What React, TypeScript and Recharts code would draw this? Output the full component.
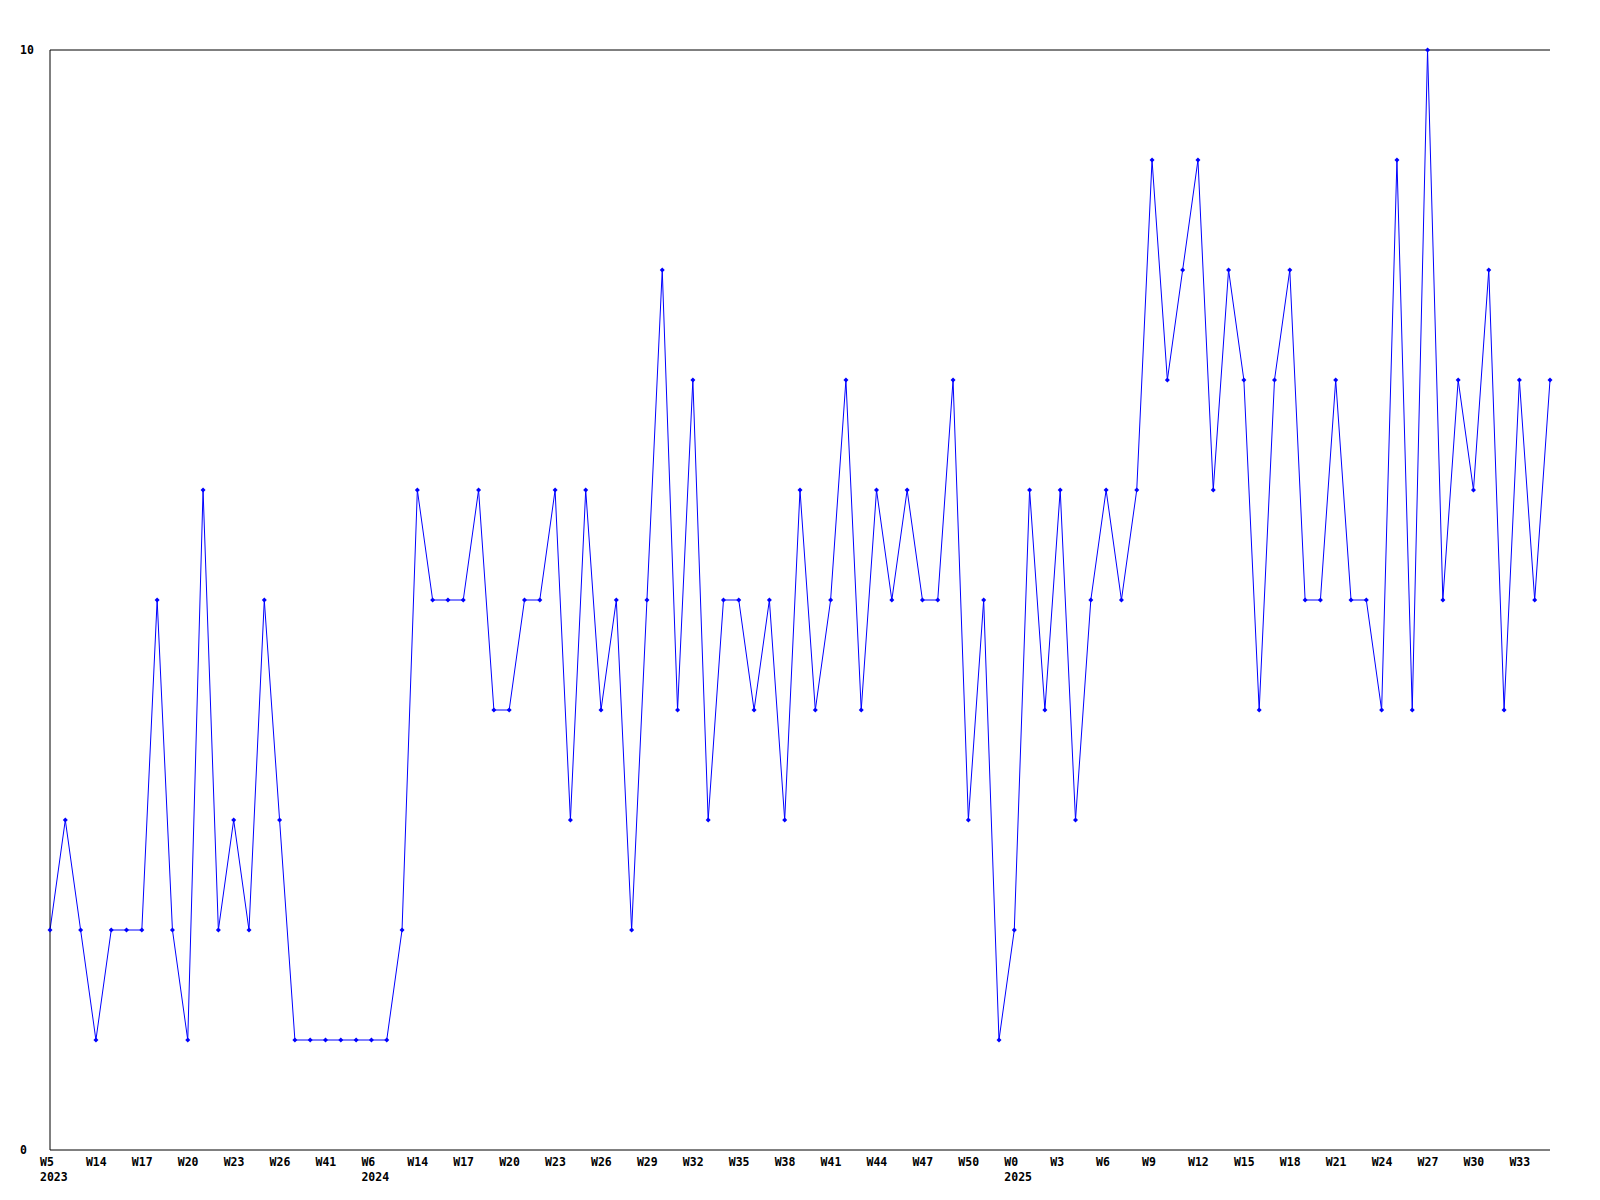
import React from 'react'
import { LineChart, Line, XAxis, YAxis, ReferenceLine } from 'recharts'

// week labels (only every third one is visible on the axis)
const weeks = [
  'W5', 'W11', 'W13', 'W14', 'W15', 'W16', 'W17', 'W18', 'W19', 'W20',
  'W21', 'W22', 'W23', 'W24', 'W25', 'W26', 'W32', 'W37', 'W41', 'W47',
  'W51', 'W6', 'W8', 'W11', 'W14', 'W15', 'W16', 'W17', 'W18', 'W19',
  'W20', 'W21', 'W22', 'W23', 'W24', 'W25', 'W26', 'W27', 'W28', 'W29',
  'W30', 'W31', 'W32', 'W33', 'W34', 'W35', 'W36', 'W37', 'W38', 'W39',
  'W40', 'W41', 'W42', 'W43', 'W44', 'W45', 'W46', 'W47', 'W48', 'W49',
  'W50', 'W51', 'W52', 'W0', 'W1', 'W2', 'W3', 'W4', 'W5', 'W6',
  'W7', 'W8', 'W9', 'W10', 'W11', 'W12', 'W13', 'W14', 'W15', 'W16',
  'W17', 'W18', 'W19', 'W20', 'W21', 'W22', 'W23', 'W24', 'W25', 'W26',
  'W27', 'W28', 'W29', 'W30', 'W31', 'W32', 'W33', 'W34', 'W35',
]

const years = [
  ...Array(21).fill(2023),
  ...Array(42).fill(2024),
  ...Array(36).fill(2025),
]

const counts = [
  2, 3, 2, 1, 2, 2, 2, 5, 2, 1,
  6, 2, 3, 2, 5, 3, 1, 1, 1, 1,
  1, 1, 1, 2, 6, 5, 5, 5, 6, 4,
  4, 5, 5, 6, 3, 6, 4, 5, 2, 5,
  8, 4, 7, 3, 5, 5, 4, 5, 3, 6,
  4, 5, 7, 4, 6, 5, 6, 5, 5, 7,
  3, 5, 1, 2, 6, 4, 6, 3, 5, 6,
  5, 6, 9, 7, 8, 9, 6, 8, 7, 4,
  7, 8, 5, 5, 7, 5, 5, 4, 9, 4,
  10, 5, 7, 6, 8, 4, 7, 5, 7,
]

const yTicks = [0, 10]

const data = weeks.map((w, i) => ({ key: `${years[i]}-${w}`, value: counts[i] }))

const FONT = '"DejaVu Sans Mono", monospace'

function WeekTick({ x, y, payload }: any) {
  const i = data.findIndex((d) => d.key === payload.value)
  const showYear = i === 0 || (i > 0 && years[i] !== years[i - 1])
  return (
    <g>
      <text x={x - 10} y={y + 12} fontFamily={FONT} fontSize={11.5} fontWeight="bold" fill="#000" dominantBaseline="central">
        {weeks[i]}
      </text>
      {showYear && (
        <text x={x - 10} y={y + 27} fontFamily={FONT} fontSize={11.5} fontWeight="bold" fill="#000" dominantBaseline="central">
          {years[i]}
        </text>
      )}
    </g>
  )
}

function ValueTick({ y, payload }: any) {
  return (
    <text x={12} y={y} fontFamily={FONT} fontSize={11.5} fontWeight="bold" fill="#000" dominantBaseline="central">
      {payload.value}
    </text>
  )
}

function Diamond({ cx, cy }: any) {
  if (cx == null || cy == null) return null
  return <path d={`M${cx},${cy - 2.5}L${cx + 2.5},${cy}L${cx},${cy + 2.5}L${cx - 2.5},${cy}Z`} fill="#0000ff" />
}

export default function App() {
  return (
    <LineChart width={1592} height={1192} data={data} margin={{ top: 42, right: 50, left: 2, bottom: 10 }}>
      <XAxis
        dataKey="key"
        interval={2}
        tick={<WeekTick />}
        tickLine={false}
        tickSize={0}
        tickMargin={0}
        height={40}
        axisLine={{ stroke: '#000' }}
      />
      <YAxis
        domain={[0, 10]}
        ticks={yTicks}
        tick={<ValueTick />}
        tickLine={false}
        tickSize={0}
        width={40}
        axisLine={{ stroke: '#000' }}
      />
      <ReferenceLine y={10} stroke="#000" />
      <Line
        type="linear"
        dataKey="value"
        stroke="#0000ff"
        strokeWidth={1}
        dot={<Diamond />}
        activeDot={false}
        isAnimationActive={false}
      />
    </LineChart>
  )
}
